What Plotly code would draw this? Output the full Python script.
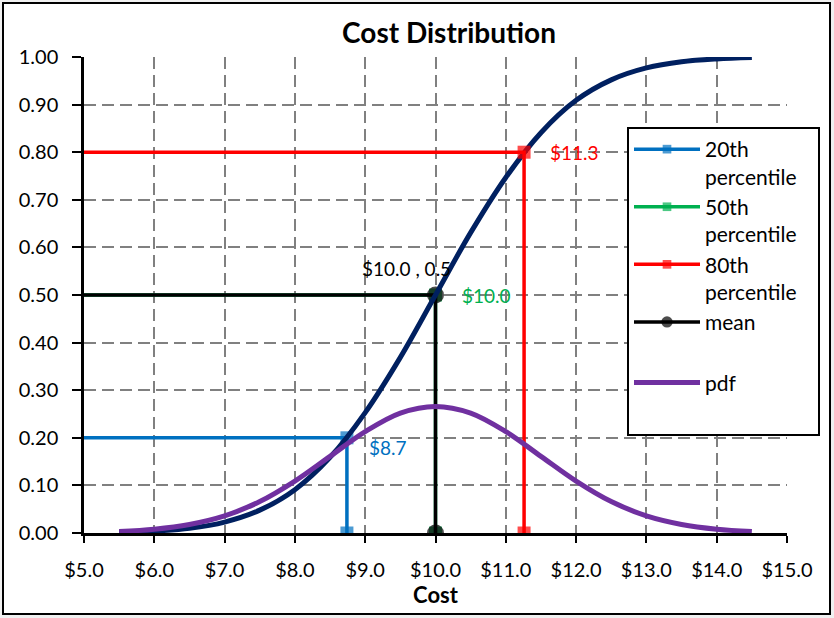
import plotly.graph_objects as go

# ---- data ----
cost = [5.5, 6.0, 6.5, 7.0, 7.5, 8.0, 8.5, 9.0, 9.5, 10.0,
        10.5, 11.0, 11.5, 12.0, 12.5, 13.0, 13.5, 14.0, 14.5]
cdf = [0.001, 0.004, 0.010, 0.023, 0.048, 0.091, 0.159, 0.253, 0.369, 0.500,
       0.631, 0.747, 0.841, 0.909, 0.952, 0.977, 0.990, 0.996, 0.999]
pdf = [0.003, 0.008, 0.018, 0.036, 0.066, 0.109, 0.161, 0.213, 0.252, 0.266,
       0.252, 0.213, 0.161, 0.109, 0.066, 0.036, 0.018, 0.008, 0.003]

p20, p50, p80, mean_x = 8.74, 10.0, 11.26, 10.0
q20, q50, q80, mean_y = 0.20, 0.50, 0.80, 0.50
x_start = 5.0

x_ticks = [5, 6, 7, 8, 9, 10, 11, 12, 13, 14, 15]
y_ticks = [0.0, 0.1, 0.2, 0.3, 0.4, 0.5, 0.6, 0.7, 0.8, 0.9, 1.0]

NAVY = "#002060"
PURPLE = "#7030A0"
BLUE = "#0070C0"
GREEN = "#00B050"
RED = "#FF0000"
FONT = "Lato"
PAD = "&nbsp;" * 3

fig = go.Figure()

def pct_trace(name, px, py, color, rank, symbol="square", msize=13):
    return go.Scatter(
        x=[x_start, px, px], y=[py, py, 0], name=name, mode="lines+markers",
        line=dict(color=color, width=3.5),
        marker=dict(symbol=symbol, size=[0, msize, msize], color=color,
                    line=dict(width=0)),
        legendrank=rank, hoverinfo="skip")

fig.add_trace(pct_trace("20th<br>percentile" + PAD, p20, q20, BLUE, 1))
fig.add_trace(pct_trace("50th<br>percentile" + PAD, p50, q50, GREEN, 2))
fig.add_trace(pct_trace("mean", mean_x, mean_y, "black", 4, symbol="circle", msize=17))
fig.add_trace(go.Scatter(x=cost, y=cdf, name="cdf", mode="lines",
                         line=dict(color=NAVY, width=5, shape="spline"),
                         showlegend=False, hoverinfo="skip"))
fig.add_trace(pct_trace("80th<br>percentile" + PAD, p80, q80, RED, 3))
fig.add_trace(go.Scatter(x=[None], y=[None], name=" ", mode="lines",
                         line=dict(color="rgba(0,0,0,0)", width=1),
                         legendrank=5, hoverinfo="skip"))
fig.add_trace(go.Scatter(x=cost, y=pdf, name="pdf", mode="lines",
                         line=dict(color=PURPLE, width=5, shape="spline"),
                         legendrank=6, hoverinfo="skip"))
fig.add_trace(go.Scatter(x=[None], y=[None], name=" ", mode="lines",
                         line=dict(color="rgba(0,0,0,0)", width=1),
                         legendrank=7, hoverinfo="skip"))

ann_font = dict(family=FONT, size=19)
annotations = [
    dict(x=p80, y=q80, text=f"${p80:.1f}", showarrow=False, xanchor="left",
         xshift=24, font=dict(color=RED, **ann_font)),
    dict(x=p50, y=q50, text=f"${p50:.1f}", showarrow=False, xanchor="left",
         xshift=24, font=dict(color=GREEN, **ann_font)),
    dict(x=p20, y=q20, text=f"${p20:.1f}", showarrow=False, xanchor="left",
         xshift=20, yshift=-10, font=dict(color=BLUE, **ann_font)),
    dict(x=mean_x, y=mean_y, text=f"${mean_x:.1f} , {mean_y:.1f}", showarrow=False,
         xanchor="center", yshift=27, xshift=-29, font=dict(color="black", **ann_font)),
]

L, R, T, B = 84, 47, 57, 85
W, H = 834, 618
pw, ph = W - L - R, H - T - B
def px2x(p):
    return (p - L) / pw
def py2y(p):
    return (H - B - p) / ph

fig.add_shape(type="rect", xref="paper", yref="paper",
              x0=px2x(3), x1=px2x(830), y0=py2y(614), y1=py2y(3),
              line=dict(color="black", width=2), fillcolor="white", layer="below")

fig.update_layout(
    width=W, height=H,
    margin=dict(l=L, r=R, t=T, b=B, autoexpand=False),
    paper_bgcolor="#f0f0f0",
    plot_bgcolor="white",
    font=dict(family=FONT, size=20, color="black"),
    title=dict(text="<b>Cost Distribution</b>", x=449 / W, xref="container",
               xanchor="center", y=1 - 33 / H, yref="container", yanchor="middle",
               font=dict(family=FONT, size=28, color="black")),
    annotations=annotations,
    showlegend=True,
    legend=dict(x=px2x(627), y=py2y(127), xanchor="left", yanchor="top",
                bgcolor="white", bordercolor="black", borderwidth=2,
                font=dict(family=FONT, size=21, color="black"),
                valign="top", traceorder="normal", itemwidth=66,
                tracegroupgap=5),
    xaxis=dict(range=[5, 15], tickvals=x_ticks,
               ticktext=[f"${v:.1f}" for v in x_ticks],
               showgrid=True, gridcolor="#808080", gridwidth=2, griddash="12px,6px",
               showline=True, linecolor="black", linewidth=2.5,
               ticks="outside", ticklen=7, tickwidth=2, tickcolor="black",
               ticklabelstandoff=10,
               zeroline=False,
               title=dict(text="<b>Cost</b>", font=dict(family=FONT, size=22), standoff=2),
               tickfont=dict(family=FONT, size=20)),
    yaxis=dict(range=[0, 1], tickvals=y_ticks,
               ticktext=[f"{v:.2f}" for v in y_ticks],
               showgrid=True, gridcolor="#808080", gridwidth=2, griddash="12px,6px",
               showline=True, linecolor="black", linewidth=2.5,
               ticks="outside", ticklen=9, tickwidth=2, tickcolor="black",
               ticklabelstandoff=10,
               zeroline=False, tickfont=dict(family=FONT, size=20)),
)

fig.write_html("out.html", config={"displayModeBar": False},
               post_script="document.body.style.margin='0px';")
